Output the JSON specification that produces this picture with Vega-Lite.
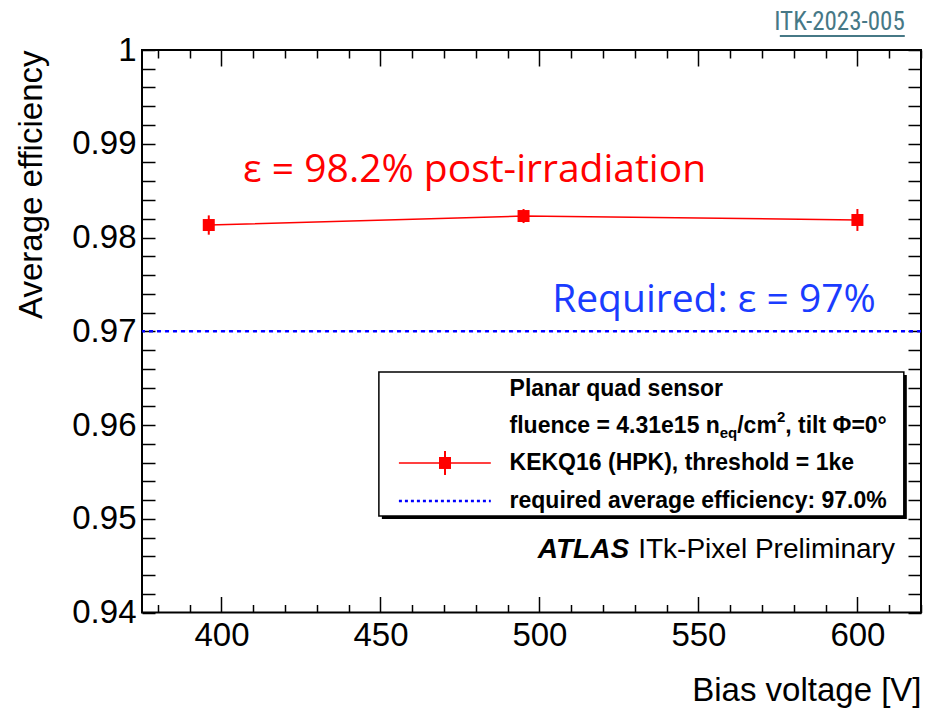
{
  "$schema": "https://vega.github.io/schema/vega-lite/v6.json",
  "width": 779,
  "height": 562.5,
  "autosize": {"type": "none"},
  "padding": {"left": 142, "top": 50, "right": 4, "bottom": 96.5},
  "background": "white",
  "config": {
    "view": {"stroke": "black", "strokeWidth": 2},
    "font": "Liberation Sans"
  },
  "datasets": {
    "points": [
      {"voltage": 396, "eff": 0.98133, "lo": 0.9803, "hi": 0.98236},
      {"voltage": 495, "eff": 0.98229, "lo": 0.98154, "hi": 0.98304},
      {"voltage": 600, "eff": 0.98187, "lo": 0.9807, "hi": 0.98304}
    ]
  },
  "resolve": {"axis": {"x": "independent", "y": "independent"}},
  "layer": [
    {
      "data": {"name": "points"},
      "mark": {"type": "line", "color": "#ff0000", "strokeWidth": 1.5},
      "encoding": {
        "x": {
          "field": "voltage", "type": "quantitative",
          "scale": {"domain": [375, 620], "zero": false, "nice": false},
          "axis": {
            "orient": "bottom",
            "values": [380, 390, 400, 410, 420, 430, 440, 450, 460, 470, 480, 490, 500, 510, 520, 530, 540, 550, 560, 570, 580, 590, 600, 610, 620],
            "labelExpr": "datum.value % 50 === 0 ? datum.label : ''",
            "tickSize": {"condition": {"test": "datum.value % 50 === 0", "value": -16}, "value": -8},
            "tickWidth": 1.5, "tickColor": "black", "domain": false, "grid": false,
            "labelFont": "Liberation Sans", "labelFontSize": 33, "labelColor": "black",
            "labelPadding": 23, "labelFlush": false, "labelOverlap": false,
            "title": "Bias voltage [V]", "titleAnchor": "end", "titleFont": "Liberation Sans",
            "titleFontSize": 33, "titleFontWeight": "normal", "titleColor": "black", "titlePadding": 14
          }
        },
        "y": {
          "field": "eff", "type": "quantitative",
          "scale": {"domain": [0.94, 1.0], "zero": false, "nice": false},
          "axis": {
            "orient": "left",
            "values": [0.94, 0.942, 0.944, 0.946, 0.948, 0.95, 0.952, 0.954, 0.956, 0.958, 0.96, 0.962, 0.964, 0.966, 0.968, 0.97, 0.972, 0.974, 0.976, 0.978, 0.98, 0.982, 0.984, 0.986, 0.988, 0.99, 0.992, 0.994, 0.996, 0.998, 1.0],
            "format": ".2~f",
            "labelExpr": "abs(datum.value*100 - round(datum.value*100)) < 0.001 ? datum.label : ''",
            "tickSize": -13, "tickWidth": 1.5, "tickColor": "black", "domain": false, "grid": false,
            "labelFont": "Liberation Sans", "labelFontSize": 33, "labelColor": "black",
            "labelPadding": 19, "labelFlush": false, "labelOverlap": false,
            "title": "Average efficiency", "titleAnchor": "end", "titleFont": "Liberation Sans",
            "titleFontSize": 33, "titleFontWeight": "normal", "titleColor": "black", "titlePadding": 23
          }
        }
      }
    },
    {
      "data": {"name": "points"},
      "mark": {"type": "rule", "color": "#ff0000", "strokeWidth": 2},
      "encoding": {
        "x": {"field": "voltage", "type": "quantitative", "axis": null},
        "y": {"field": "lo", "type": "quantitative", "axis": null},
        "y2": {"field": "hi"}
      }
    },
    {
      "data": {"name": "points"},
      "mark": {"type": "square", "color": "#ff0000", "filled": true, "opacity": 1, "size": 144},
      "encoding": {
        "x": {
          "field": "voltage", "type": "quantitative",
          "axis": {
            "orient": "top",
            "values": [380, 390, 400, 410, 420, 430, 440, 450, 460, 470, 480, 490, 500, 510, 520, 530, 540, 550, 560, 570, 580, 590, 600, 610, 620],
            "labels": false,
            "tickSize": {"condition": {"test": "datum.value % 50 === 0", "value": -16}, "value": -8},
            "tickWidth": 1.5, "tickColor": "black", "domain": false, "grid": false, "title": null
          }
        },
        "y": {
          "field": "eff", "type": "quantitative",
          "axis": {
            "orient": "right",
            "values": [0.94, 0.942, 0.944, 0.946, 0.948, 0.95, 0.952, 0.954, 0.956, 0.958, 0.96, 0.962, 0.964, 0.966, 0.968, 0.97, 0.972, 0.974, 0.976, 0.978, 0.98, 0.982, 0.984, 0.986, 0.988, 0.99, 0.992, 0.994, 0.996, 0.998, 1.0],
            "labels": false, "tickSize": -13, "tickWidth": 1.5, "tickColor": "black",
            "domain": false, "grid": false, "title": null
          }
        }
      }
    },
    {
      "data": {"values": [{"required": 0.97}]},
      "mark": {"type": "rule", "color": "#0000ff", "strokeWidth": 2.5, "strokeDash": [4, 4]},
      "encoding": {"y": {"field": "required", "type": "quantitative", "axis": null}}
    },
    {
      "data": {"values": [{"x1": 450.44, "x2": 615.54, "y1": 0.94997, "y2": 0.96533}]},
      "mark": {"type": "rect", "color": "black"},
      "encoding": {
        "x": {"field": "x1", "type": "quantitative", "axis": null},
        "x2": {"field": "x2"},
        "y": {"field": "y1", "type": "quantitative", "axis": null},
        "y2": {"field": "y2"}
      }
    },
    {
      "data": {"values": [{"x1": 449.5, "x2": 614.6, "y1": 0.95029, "y2": 0.96565}]},
      "mark": {"type": "rect", "fill": "white", "stroke": "black", "strokeWidth": 1.5},
      "encoding": {
        "x": {"field": "x1", "type": "quantitative", "axis": null},
        "x2": {"field": "x2"},
        "y": {"field": "y1", "type": "quantitative", "axis": null},
        "y2": {"field": "y2"}
      }
    },
    {
      "data": {"values": [
        {"x": 490.6, "y": 0.96384, "label": "Planar quad sensor"},
        {"x": 490.6, "y": 0.95989, "label": "fluence = 4.31e15 n"},
        {"x": 562.2, "y": 0.95989, "label": "/cm"},
        {"x": 577.3, "y": 0.95989, "label": ", tilt Φ=0°"},
        {"x": 490.6, "y": 0.95595, "label": "KEKQ16 (HPK), threshold = 1ke"},
        {"x": 490.6, "y": 0.95189, "label": "required average efficiency: 97.0%"}
      ]},
      "mark": {"type": "text", "align": "left", "baseline": "middle", "font": "Liberation Sans", "fontWeight": "bold", "fontSize": 23, "color": "black"},
      "encoding": {
        "x": {"field": "x", "type": "quantitative", "axis": null},
        "y": {"field": "y", "type": "quantitative", "axis": null},
        "text": {"field": "label"}
      }
    },
    {
      "data": {"values": [
        {"x": 556.7, "y": 0.95915, "label": "eq"},
        {"x": 574.7, "y": 0.96085, "label": "2"}
      ]},
      "mark": {"type": "text", "align": "left", "baseline": "middle", "font": "Liberation Sans", "fontWeight": "bold", "fontSize": 15, "color": "black"},
      "encoding": {
        "x": {"field": "x", "type": "quantitative", "axis": null},
        "y": {"field": "y", "type": "quantitative", "axis": null},
        "text": {"field": "label"}
      }
    },
    {
      "data": {"values": [{"x1": 455.8, "x2": 484.7, "y": 0.95595}]},
      "mark": {"type": "rule", "color": "#ff0000", "strokeWidth": 1.5},
      "encoding": {
        "x": {"field": "x1", "type": "quantitative", "axis": null},
        "x2": {"field": "x2"},
        "y": {"field": "y", "type": "quantitative", "axis": null}
      }
    },
    {
      "data": {"values": [{"x": 470.3, "y1": 0.95467, "y2": 0.95723}]},
      "mark": {"type": "rule", "color": "#ff0000", "strokeWidth": 2},
      "encoding": {
        "x": {"field": "x", "type": "quantitative", "axis": null},
        "y": {"field": "y1", "type": "quantitative", "axis": null},
        "y2": {"field": "y2"}
      }
    },
    {
      "data": {"values": [{"x": 470.3, "y": 0.95595}]},
      "mark": {"type": "square", "color": "#ff0000", "filled": true, "opacity": 1, "size": 144},
      "encoding": {
        "x": {"field": "x", "type": "quantitative", "axis": null},
        "y": {"field": "y", "type": "quantitative", "axis": null}
      }
    },
    {
      "data": {"values": [{"x1": 455.8, "x2": 484.7, "y": 0.95189}]},
      "mark": {"type": "rule", "color": "#0000ff", "strokeWidth": 2.5, "strokeDash": [3, 3]},
      "encoding": {
        "x": {"field": "x1", "type": "quantitative", "axis": null},
        "x2": {"field": "x2"},
        "y": {"field": "y", "type": "quantitative", "axis": null}
      }
    },
    {
      "data": {"values": [{"x": 499.5, "y": 0.94667, "label": "ATLAS"}]},
      "mark": {"type": "text", "align": "left", "baseline": "middle", "font": "Liberation Sans", "fontWeight": "bold", "fontStyle": "italic", "fontSize": 28, "color": "black"},
      "encoding": {
        "x": {"field": "x", "type": "quantitative", "axis": null},
        "y": {"field": "y", "type": "quantitative", "axis": null},
        "text": {"field": "label"}
      }
    },
    {
      "data": {"values": [{"x": 611.8, "y": 0.94667, "label": "ITk-Pixel Preliminary"}]},
      "mark": {"type": "text", "align": "right", "baseline": "middle", "font": "Liberation Sans", "fontSize": 28, "color": "black"},
      "encoding": {
        "x": {"field": "x", "type": "quantitative", "axis": null},
        "y": {"field": "y", "type": "quantitative", "axis": null},
        "text": {"field": "label"}
      }
    },
    {
      "data": {"values": [{"x": 406.8, "y": 0.9872, "label": "ε = 98.2% post-irradiation"}]},
      "mark": {"type": "text", "align": "left", "baseline": "middle", "font": "Open Sans", "fontSize": 39, "color": "#ff0000"},
      "encoding": {
        "x": {"field": "x", "type": "quantitative", "axis": null},
        "y": {"field": "y", "type": "quantitative", "axis": null},
        "text": {"field": "label"}
      }
    },
    {
      "data": {"values": [{"x": 605.8, "y": 0.97333, "label": "Required: ε = 97%"}]},
      "mark": {"type": "text", "align": "right", "baseline": "middle", "font": "Open Sans", "fontSize": 39, "color": "#1a3cff"},
      "encoding": {
        "x": {"field": "x", "type": "quantitative", "axis": null},
        "y": {"field": "y", "type": "quantitative", "axis": null},
        "text": {"field": "label"}
      }
    },
    {
      "data": {"values": [{"x": 614.9, "y": 1.00299, "label": "ITK-2023-005"}]},
      "mark": {"type": "text", "align": "right", "baseline": "middle", "font": "Liberation Sans Narrow, Roboto Condensed, Liberation Sans", "fontSize": 25, "color": "#467886"},
      "encoding": {
        "x": {"field": "x", "type": "quantitative", "axis": null},
        "y": {"field": "y", "type": "quantitative", "axis": null},
        "text": {"field": "label"}
      }
    },
    {
      "data": {"values": [{"x1": 575.6, "x2": 614.9, "y": 1.00149}]},
      "mark": {"type": "rule", "color": "#467886", "strokeWidth": 2},
      "encoding": {
        "x": {"field": "x1", "type": "quantitative", "axis": null},
        "x2": {"field": "x2"},
        "y": {"field": "y", "type": "quantitative", "axis": null}
      }
    }
  ]
}
